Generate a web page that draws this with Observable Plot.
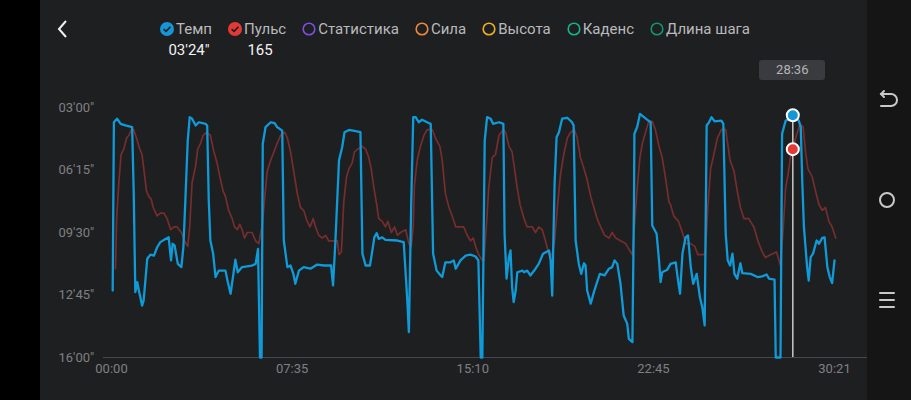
<!DOCTYPE html>
<html>
<head>
<meta charset="utf-8">
<script src="https://cdn.jsdelivr.net/npm/d3@7"></script>
<script src="https://cdn.jsdelivr.net/npm/@observablehq/plot@0.6"></script>
<style>
body { margin: 0; background: #000; font-family: Roboto, "Noto Sans", sans-serif; }
#screen { position: relative; width: 911px; height: 400px; overflow: hidden; background: #000; }
#panel { position: absolute; left: 40px; top: 0; width: 827px; height: 400px; background: #1e1f21; }
#nav { position: absolute; left: 867px; top: 0; width: 44px; height: 400px; background: #151516; }
#chart { position: absolute; left: 0; top: 0; }
#legend { position: absolute; left: 160px; top: 19px; display: flex; gap: 16px; font-size: 15px; color: #b9babc; line-height: 20px; }
#legend .item { display: flex; align-items: center; gap: 2px; }
.val { position: absolute; top: 40px; color: #f2f2f2; font-size: 15px; line-height: 20px; transform: translateX(-50%); }
#tipbox { position: absolute; top: 60px; height: 20px; width: 66px; background: #3a3b3e; border-radius: 3px;
  color: #b4b5b7; font-size: 13px; line-height: 20px; text-align: center; transform: translateX(-50%); }
</style>
</head>
<body>
<div id="screen">
  <div id="panel"></div>
  <div id="nav">
    <svg width="44" height="400">
      <g fill="none" stroke="#c9c9c9" stroke-width="2" stroke-linecap="round">
        <path d="M14 94 h10 a6 6 0 0 1 0 12 h-10"/>
        <path d="M17 91 l-3 3 l3 3"/>
        <circle cx="20" cy="200" r="7"/>
        <path d="M13 293 h14 M13 300 h14 M13 307 h14"/>
      </g>
    </svg>
  </div>
  <svg style="position:absolute;left:56px;top:19px" width="14" height="20">
    <path d="M10 2 L3 10 L10 18" fill="none" stroke="#f0f0f0" stroke-width="2"/>
  </svg>
  <div id="chart"></div>
  <div id="legend"></div>
</div>
<script>
// Темп (pace, s per km) samples: time from start (s), pace (s)
const paceT = [3,6,14,23,35,52,56,60,65,69,77,81,90,98,107,115,123,136,144,150,
  154,159,167,176,181,186,192,197,203,212,220,237,241,245,249,256,262,270,287,293,
  300,307,312,318,329,354,363,369,374,378,381,388,401,411,417,430,434,443,451,458,
  463,472,484,501,518,535,553,558,564,573,581,587,598,615,627,632,640,651,657,662,
  668,673,682,690,720,736,745,749,755,760,766,774,782,795,804,810,819,829,833,841,
  854,862,867,879,892,904,917,924,930,934,940,946,955,961,976,987,990,995,1001,1005,
  1009,1013,1018,1022,1035,1039,1047,1055,1068,1076,1087,1102,1106,1110,1116,1121,1127,1135,1148,1160,
  1164,1169,1177,1183,1190,1194,1198,1207,1215,1223,1230,1242,1253,1261,1267,1274,1282,1290,1299,1303,
  1312,1316,1317,1324,1331,1341,1349,1358,1362,1373,1379,1383,1387,1400,1408,1421,1427,1432,1438,1446,
  1452,1459,1465,1474,1482,1488,1494,1499,1505,1511,1519,1536,1541,1547,1552,1558,1564,1569,1576,1584,
  1589,1610,1627,1639,1650,1656,1670,1673,1685,1689,1698,1710,1716,1731,1736,1740,1744,1752,1756,1761,
  1767,1776,1782,1790,1796,1803,1809,1815,1821];
const paceS = [751,226,215,231,236,241,448,756,725,751,798,782,652,639,642,616,600,590,585,657,
  605,611,668,678,616,470,283,210,215,236,226,231,236,470,595,636,709,689,689,725,
  761,699,655,694,678,673,668,621,960,960,293,241,226,229,241,252,595,678,673,699,
  730,689,678,683,670,673,673,735,595,345,304,257,250,254,257,636,673,673,626,585,
  572,590,585,593,595,600,782,881,470,210,210,226,218,226,231,636,689,704,709,663,
  663,657,683,657,642,639,645,657,960,960,283,210,215,231,226,231,574,714,647,626,
  741,787,751,694,689,694,689,704,683,668,636,626,657,767,418,273,257,215,212,226,
  236,595,668,699,666,673,751,792,756,725,699,704,683,678,657,668,730,829,855,902,
  912,470,262,241,200,210,218,226,548,574,657,725,694,686,668,663,720,761,636,585,
  579,678,730,699,772,803,860,236,226,210,223,221,231,574,657,673,636,699,714,666,
  697,699,709,707,701,714,717,960,960,262,221,215,204,221,241,418,553,678,720,647,
  636,595,605,587,585,678,709,728,657];

// Пульс (heart rate, bpm)
const hrT = [10,13,18,24,31,38,44,50,56,63,69,77,83,88,94,100,105,115,123,132,
  140,149,157,165,176,184,192,197,203,212,217,224,231,239,249,258,266,273,281,287,
  295,304,310,317,323,329,335,342,354,363,371,380,385,392,401,409,417,426,437,443,
  451,459,468,476,484,493,500,508,514,522,531,539,547,560,569,573,579,585,592,598,
  606,612,620,632,640,648,654,661,668,673,682,690,696,705,713,720,728,741,749,755,
  760,763,770,778,787,795,808,816,827,833,841,850,858,867,875,887,896,904,911,917,
  925,934,938,945,950,959,967,976,987,993,1001,1009,1015,1022,1029,1039,1047,1060,1068,1076,
  1085,1093,1102,1110,1116,1123,1131,1139,1148,1156,1166,1173,1181,1190,1198,1207,1215,1223,1232,1242,
  1253,1261,1270,1282,1295,1303,1312,1317,1324,1331,1337,1345,1353,1362,1370,1379,1387,1396,1404,1408,
  1416,1428,1438,1446,1459,1469,1477,1491,1496,1502,1509,1517,1526,1536,1547,1552,1558,1568,1576,1584,
  1593,1605,1618,1628,1639,1647,1660,1675,1685,1692,1698,1704,1710,1716,1725,1734,1742,1748,1754,1765,
  1773,1782,1790,1798,1807,1815,1824];
const hrBpm = [122,140,152,163,165,169,170,172,172,169,166,163,156,150,148,147,144,141,142,142,
  140,136,137,137,135,132,130,137,153,159,165,167,170,171,170,164,160,155,150,148,
  143,140,137,136,138,136,133,135,135,132,131,138,146,157,161,164,167,170,171,169,
  164,157,149,144,143,139,137,140,137,134,133,134,132,132,132,127,128,146,155,158,
  160,164,165,166,165,162,158,151,145,140,139,137,139,135,137,134,135,136,131,130,
  137,152,161,166,170,172,172,169,166,161,149,144,141,137,137,137,134,132,133,130,
  127,125,125,139,151,162,163,170,172,171,166,164,158,151,145,140,137,137,135,137,
  136,132,127,127,132,144,156,163,169,171,172,169,162,158,154,148,144,140,137,134,
  133,135,133,132,131,129,127,137,151,162,167,171,175,175,172,166,162,154,146,145,
  141,139,135,131,131,130,127,127,128,144,158,163,169,172,172,167,161,157,150,144,
  140,140,137,132,128,126,127,128,123,137,151,156,162,165,170,174,173,164,158,155,
  150,145,143,144,139,137,133];

const xTicks = [0, 455, 910, 1365, 1821];
const yTicks = [180, 375, 570, 765, 960];

const cursorT = 1716;       // 28:36
const cursorPace = 204;     // 03'24"
const cursorHr = 165;

const legendNames = ["Темп", "Пульс", "Статистика", "Сила", "Высота", "Каденс", "Длина шага"];
const legendColors = ["#1596d6", "#e53935", "#7c4fe0", "#f0893b", "#f2b01e", "#16b386", "#12946d"];
const legendOn = [true, true, false, false, false, false, false];

const two = n => String(n).padStart(2, "0");
const fmtPace = s => `${two(Math.floor(s / 60))}'${two(s % 60)}"`;
const fmtClock = s => `${two(Math.floor(s / 60))}:${two(s % 60)}`;

// heart rate has no axis of its own: put it on the pace scale
const hrToPace = d3.scaleLinear().domain([90, 180]).range([960, 180]);

const paceRows = paceT.map((t, i) => ({t, pace: paceS[i]}));
const hrRows = hrT.map((t, i) => ({t, hr: hrBpm[i]}));
const cursor = {t: cursorT, pace: cursorPace, hr: cursorHr};

const chart = Plot.plot({
  width: 911,
  height: 400,
  marginLeft: 111,
  marginRight: 77,
  marginTop: 107,
  marginBottom: 43,
  style: {background: "transparent", color: "#7f8083", fontFamily: "Roboto, sans-serif", fontSize: "13px"},
  x: {domain: [0, 1821]},
  y: {domain: [180, 960], reverse: true},
  marks: [
    Plot.ruleY([960], {stroke: "#47484b", strokeWidth: 1, insetLeft: -8, insetRight: -33}),
    Plot.axisX({ticks: xTicks, tickSize: 0, tickPadding: 6, tickFormat: fmtClock, label: null}),
    Plot.axisY({ticks: yTicks, tickSize: 0, tickPadding: 53, textAnchor: "start", tickFormat: fmtPace, label: null}),
    Plot.line(hrRows, {x: "t", y: d => hrToPace(d.hr), stroke: "#762d2d", strokeWidth: 1.7}),
    Plot.line(paceRows, {x: "t", y: "pace", stroke: "#0f9ad8", strokeWidth: 2.3}),
    Plot.ruleX([cursor], {x: "t", y1: "pace", y2: 960, stroke: "#c9c9c9", strokeWidth: 1.5}),
    Plot.dot([cursor], {x: "t", y: d => hrToPace(d.hr), r: 6, fill: "#e53935", stroke: "#fff", strokeWidth: 2}),
    Plot.dot([cursor], {x: "t", y: "pace", r: 6, fill: "#1596d6", stroke: "#fff", strokeWidth: 2}),
  ]
});
document.getElementById("chart").appendChild(chart);

// legend
const legend = document.getElementById("legend");
legendNames.forEach((name, i) => {
  const c = legendColors[i];
  const icon = legendOn[i]
    ? `<svg width="14" height="14"><circle cx="7" cy="7" r="7" fill="${c}"/><path d="M3.6 7.2 L6 9.4 L10.4 4.9" fill="none" stroke="#1e1f21" stroke-width="1.6"/></svg>`
    : `<svg width="14" height="14"><circle cx="7" cy="7" r="5.8" fill="none" stroke="${c}" stroke-width="1.6"/></svg>`;
  const item = document.createElement("div");
  item.className = "item";
  item.innerHTML = icon + `<span>${name}</span>`;
  legend.appendChild(item);
});

// current values under the first two legend items
const screen = document.getElementById("screen");
const items = legend.querySelectorAll(".item");
[fmtPace(cursorPace), String(cursorHr)].forEach((txt, i) => {
  const r = items[i].getBoundingClientRect();
  const v = document.createElement("div");
  v.className = "val";
  v.textContent = txt;
  v.style.left = (r.left + r.width / 2 + 3) + "px";
  screen.appendChild(v);
});

// time bubble over the cursor
const tip = document.createElement("div");
tip.id = "tipbox";
tip.textContent = fmtClock(cursorT);
tip.style.left = chart.scale("x").apply(cursorT) + "px";
screen.appendChild(tip);
</script>
</body>
</html>
